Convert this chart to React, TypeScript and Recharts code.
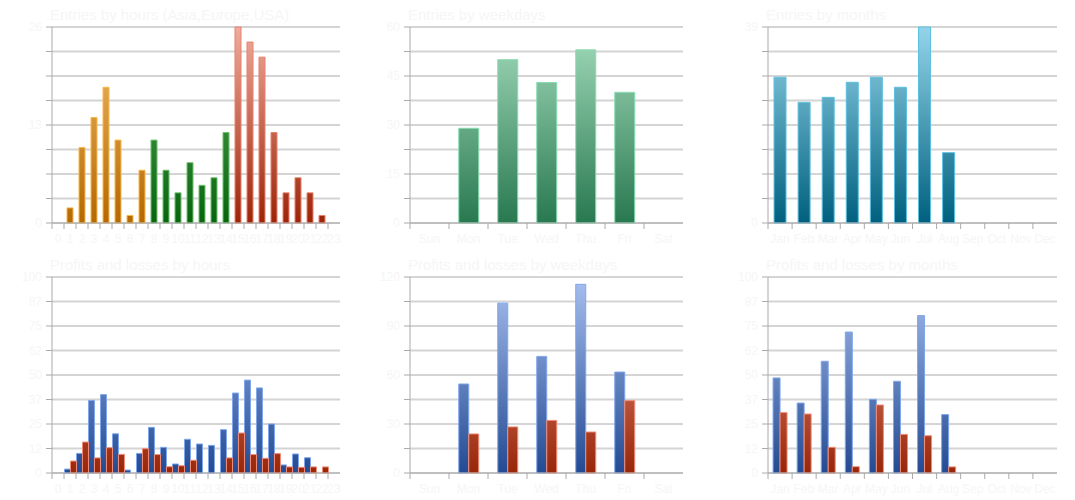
import React from 'react';
import { BarChart, Bar, XAxis, YAxis, CartesianGrid, Cell } from 'recharts';

// hours 0..23, weekdays, months
const hours = Array.from({ length: 24 }, (_, i) => String(i));
const weekdays = ['Sun', 'Mon', 'Tue', 'Wed', 'Thu', 'Fri', 'Sat'];
const months = ['Jan', 'Feb', 'Mar', 'Apr', 'May', 'Jun', 'Jul', 'Aug', 'Sep', 'Oct', 'Nov', 'Dec'];

const entriesByHour = [0, 2, 10, 14, 18, 11, 1, 7, 11, 7, 4, 8, 5, 6, 12, 26, 24, 22, 12, 4, 6, 4, 1, 0];
const hourRegion = [
  'asia', 'asia', 'asia', 'asia', 'asia', 'asia', 'asia', 'asia',
  'europe', 'europe', 'europe', 'europe', 'europe', 'europe', 'europe',
  'usa', 'usa', 'usa', 'usa', 'usa', 'usa', 'usa', 'usa', 'usa'
];
const entriesByWeekday = [0, 29, 50, 43, 53, 40, 0];
const entriesByMonth = [29, 24, 25, 28, 29, 27, 39, 14, 0, 0, 0, 0];

const profitsByHour = [0, 2, 10, 37, 40, 20, 1.5, 10, 23.3, 13.1, 4.6, 17.2, 14.8, 14.1, 22.1, 40.8, 47.4, 43.4, 25, 4.1, 9.7, 7.8, 0, 0];
const lossesByHour = [0, 6.1, 15.8, 7.7, 12.9, 9.5, 0, 12.4, 9.4, 3.2, 3.7, 6.5, 0, 0, 7.7, 20.4, 9.4, 7.5, 9.9, 3.1, 2.9, 3.1, 3.1, 0];
const profitsByWeekday = [0, 54.5, 104, 71.4, 115.5, 61.8, 0];
const lossesByWeekday = [0, 23.9, 28.2, 32.2, 25.1, 44.3, 0];
const profitsByMonth = [48.5, 35.7, 57, 71.9, 37.6, 46.8, 80.3, 29.8, 0, 0, 0, 0];
const lossesByMonth = [30.8, 30.1, 13.1, 3.2, 34.7, 19.7, 19, 3.1, 0, 0, 0, 0];

const TOP = 27;
const BOTTOM = 223;
const AXIS = '#aaaaaa';
const FAINT = '#f6f6f6';

const regionColors: Record<string, { top: string; bottom: string; stroke: string }> = {
  asia: { top: '#f4c070', bottom: '#b46800', stroke: '#f8b848' },
  europe: { top: '#5cb060', bottom: '#08640e', stroke: '#70c070' },
  usa: { top: '#f0ac9c', bottom: '#9c2408', stroke: '#e8806c' },
  week: { top: '#a4dcbc', bottom: '#287850', stroke: '#88dcb0' },
  month: { top: '#94d4ea', bottom: '#00607e', stroke: '#5cc0e0' },
  profit: { top: '#a8c0f0', bottom: '#234a92', stroke: '#7fa6ec' },
  loss: { top: '#f0a090', bottom: '#982608', stroke: '#f08c78' },
};

const gridLine = (props: any) => {
  const { x1, y1, x2, y2, index } = props;
  const major = index % 2 === 0;
  return (
    <line
      key={`g-${index}`}
      x1={x1}
      y1={y1}
      x2={x2}
      y2={y2}
      stroke={major ? AXIS : '#d4d4d4'}
      strokeWidth={major ? 1 : 2}
    />
  );
};

const makeXTick = (half: number) => (props: any) => {
  const { x, payload, index } = props;
  return (
    <g key={`t-${index}`}>
      <line x1={x - half} x2={x - half} y1={BOTTOM} y2={BOTTOM + 6} stroke={AXIS} />
      <text x={x} y={243} textAnchor="middle" fill={FAINT} fontSize={12}>
        {payload.value}
      </text>
    </g>
  );
};

interface PanelProps {
  id: string;
  title: string;
  labels: string[];
  series: { key: string; values: number[]; color: string }[];
  max: number;
  labelEvery: number;
  width: number;
  rightMargin: number;
  gap: string;
  regions?: string[];
}

const Panel: React.FC<PanelProps> = ({ id, title, labels, series, max, labelEvery, width, rightMargin, gap, regions }) => {
  const data = labels.map((label, i) => {
    const row: any = { label };
    series.forEach((s) => { row[s.key] = s.values[i]; });
    return row;
  });
  const ticks = Array.from({ length: 9 }, (_, i) => (max * i) / 8);
  const plotWidth = width - 52 - rightMargin;
  const half = plotWidth / labels.length / 2;
  const used = regions ? ['asia', 'europe', 'usa'] : series.map((s) => s.color);

  return (
    <BarChart
      width={width}
      height={250}
      data={data}
      margin={{ top: TOP, right: rightMargin, left: 0, bottom: 0 }}
      barCategoryGap={gap}
      barGap={0}
    >
      <defs>
        {used.map((c) => (
          <linearGradient key={c} id={`${id}-${c}`} gradientUnits="userSpaceOnUse" x1="0" y1={TOP} x2="0" y2={BOTTOM}>
            <stop offset="0%" stopColor={regionColors[c].top} />
            <stop offset="100%" stopColor={regionColors[c].bottom} />
          </linearGradient>
        ))}
      </defs>
      <text x={50} y={20} fill={FAINT} fontSize={15}>{title}</text>
      <CartesianGrid vertical={false} horizontal={gridLine} />
      <XAxis
        dataKey="label"
        interval={0}
        tickLine={false}
        axisLine={{ stroke: AXIS }}
        height={27}
        tick={makeXTick(half)}
      />
      <YAxis
        width={52}
        domain={[0, max]}
        ticks={ticks}
        interval={0}
        tickSize={6}
        tickMargin={4}
        tickLine={{ stroke: AXIS }}
        axisLine={{ stroke: AXIS }}
        tick={{ fill: FAINT, fontSize: 12 }}
        tickFormatter={(v: number, i: number) => (i % labelEvery === 0 ? String(Math.floor(v)) : '')}
      />
      {series.map((s) => (
        <Bar
          key={s.key}
          dataKey={s.key}
          fill={`url(#${id}-${s.color})`}
          stroke={regionColors[s.color].stroke}
          strokeWidth={1}
          isAnimationActive={false}
        >
          {regions &&
            regions.map((r, i) => (
              <Cell key={i} fill={`url(#${id}-${r})`} stroke={regionColors[r].stroke} />
            ))}
        </Bar>
      ))}
    </BarChart>
  );
};

export default function App() {
  const cell: React.CSSProperties = { position: 'absolute' };
  return (
    <div
      style={{
        position: 'absolute',
        left: 0,
        top: 0,
        width: 1075,
        height: 500,
        background: '#ffffff',
        fontFamily: '"Liberation Sans", Arial, sans-serif',
      }}
    >
      <div style={{ ...cell, left: 0, top: 0 }}>
        <Panel id="c1" title="Entries by hours (Asia,Europe,USA)" labels={hours}
          series={[{ key: 'entries', values: entriesByHour, color: 'asia' }]} regions={hourRegion}
          max={26} labelEvery={4} width={358} rightMargin={18} gap="25%" />
      </div>
      <div style={{ ...cell, left: 358, top: 0 }}>
        <Panel id="c2" title="Entries by weekdays" labels={weekdays}
          series={[{ key: 'entries', values: entriesByWeekday, color: 'week' }]}
          max={60} labelEvery={2} width={358} rightMargin={33} gap="25%" />
      </div>
      <div style={{ ...cell, left: 716, top: 0 }}>
        <Panel id="c3" title="Entries by months" labels={months}
          series={[{ key: 'entries', values: entriesByMonth, color: 'month' }]}
          max={39} labelEvery={8} width={359} rightMargin={18} gap="25%" />
      </div>
      <div style={{ ...cell, left: 0, top: 250 }}>
        <Panel id="c4" title="Profits and losses by hours" labels={hours}
          series={[
            { key: 'profits', values: profitsByHour, color: 'profit' },
            { key: 'losses', values: lossesByHour, color: 'loss' },
          ]}
          max={100} labelEvery={1} width={358} rightMargin={18} gap="4%" />
      </div>
      <div style={{ ...cell, left: 358, top: 250 }}>
        <Panel id="c5" title="Profits and losses by weekdays" labels={weekdays}
          series={[
            { key: 'profits', values: profitsByWeekday, color: 'profit' },
            { key: 'losses', values: lossesByWeekday, color: 'loss' },
          ]}
          max={120} labelEvery={2} width={358} rightMargin={33} gap="25%" />
      </div>
      <div style={{ ...cell, left: 716, top: 250 }}>
        <Panel id="c6" title="Profits and losses by months" labels={months}
          series={[
            { key: 'profits', values: profitsByMonth, color: 'profit' },
            { key: 'losses', values: lossesByMonth, color: 'loss' },
          ]}
          max={100} labelEvery={1} width={359} rightMargin={18} gap="21%" />
      </div>
    </div>
  );
}
